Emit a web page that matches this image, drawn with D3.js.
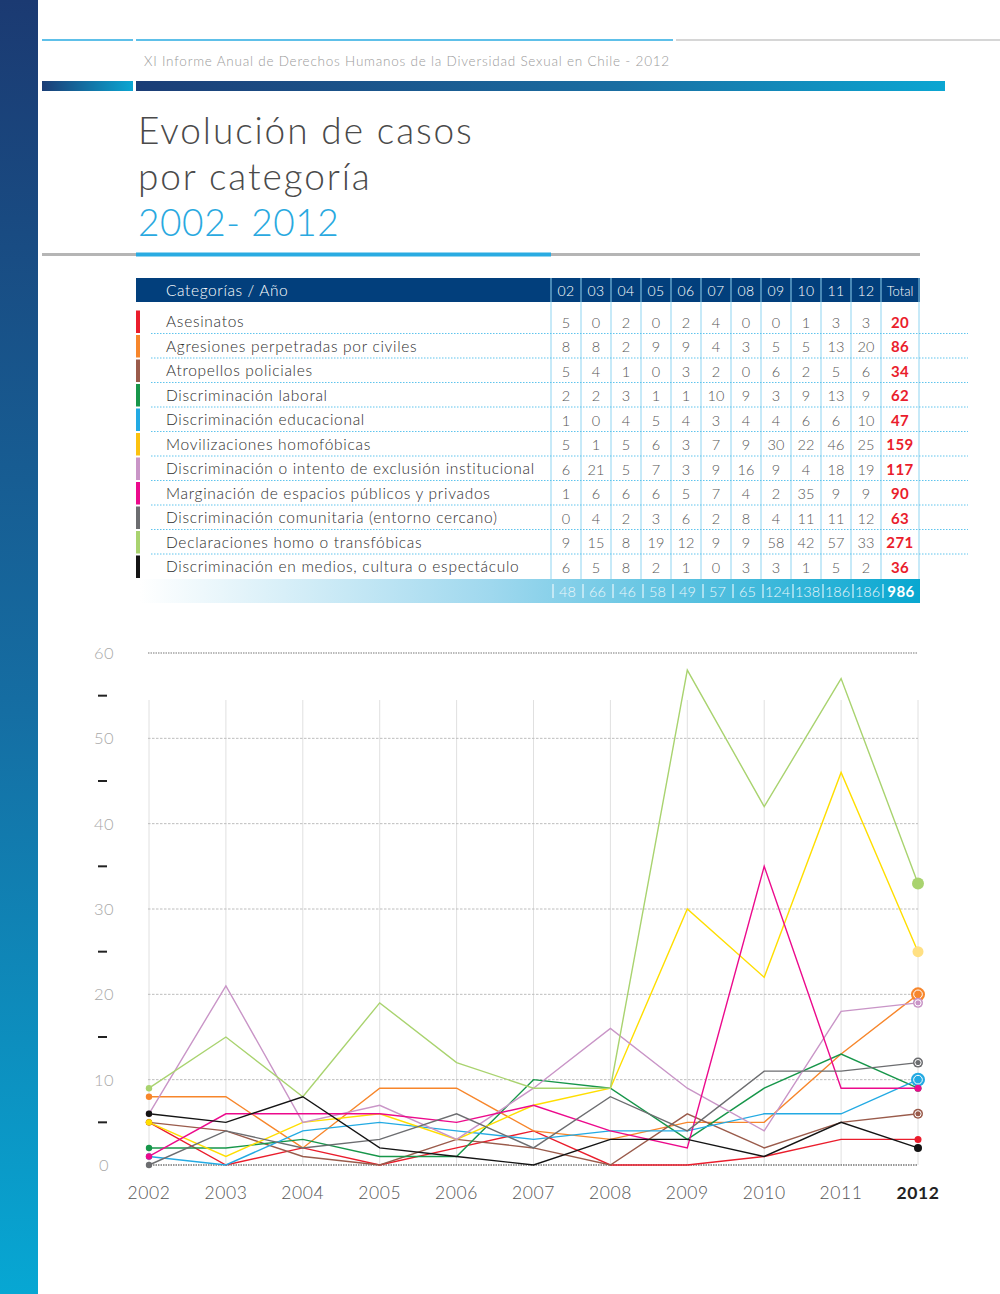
<!DOCTYPE html>
<html>
<head>
<meta charset="utf-8">
<script src="https://cdn.jsdelivr.net/npm/d3@7"></script>
<style>
  body { margin: 0; background: #fff; }
  svg { display: block; font-family: Lato, "Open Sans", sans-serif; }
</style>
</head>
<body>
<div id="chart"></div>
<script>
const years = ["2002", "2003", "2004", "2005", "2006", "2007", "2008", "2009", "2010", "2011", "2012"];
const yearHeaders = ["02", "03", "04", "05", "06", "07", "08", "09", "10", "11", "12"];
const categories = [
  "Asesinatos",
  "Agresiones perpetradas por civiles",
  "Atropellos policiales",
  "Discriminación laboral",
  "Discriminación educacional",
  "Movilizaciones homofóbicas",
  "Discriminación o intento de exclusión institucional",
  "Marginación de espacios públicos y privados",
  "Discriminación comunitaria (entorno cercano)",
  "Declaraciones homo o transfóbicas",
  "Discriminación en medios, cultura o espectáculo",
];
const asesinatos = [5, 0, 2, 0, 2, 4, 0, 0, 1, 3, 3];
const agresiones = [8, 8, 2, 9, 9, 4, 3, 5, 5, 13, 20];
const atropellos = [5, 4, 1, 0, 3, 2, 0, 6, 2, 5, 6];
const laboral = [2, 2, 3, 1, 1, 10, 9, 3, 9, 13, 9];
const educacional = [1, 0, 4, 5, 4, 3, 4, 4, 6, 6, 10];
const movilizaciones = [5, 1, 5, 6, 3, 7, 9, 30, 22, 46, 25];
const institucional = [6, 21, 5, 7, 3, 9, 16, 9, 4, 18, 19];
const marginacion = [1, 6, 6, 6, 5, 7, 4, 2, 35, 9, 9];
const comunitaria = [0, 4, 2, 3, 6, 2, 8, 4, 11, 11, 12];
const declaraciones = [9, 15, 8, 19, 12, 9, 9, 58, 42, 57, 33];
const medios = [6, 5, 8, 2, 1, 0, 3, 3, 1, 5, 2];
const categoryTotals = [20, 86, 34, 62, 47, 159, 117, 90, 63, 271, 36];
const yearTotals = [48, 66, 46, 58, 49, 57, 65, 124, 138, 186, 186];
const grandTotal = 986;
const yTicks = [0, 10, 20, 30, 40, 50, 60];

const seriesValues = [asesinatos, agresiones, atropellos, laboral, educacional, movilizaciones,
  institucional, marginacion, comunitaria, declaraciones, medios];
const colors = ["#ea1d2c", "#f7862b", "#9a5b4b", "#17964a", "#23aae3", "#fcc20f",
  "#c995c7", "#ec0a8c", "#6c6d70", "#a9d36f", "#141414"];
const lineColors = ["#ea1d2c", "#f7862b", "#9a5b4b", "#17964a", "#23aae3", "#ffde00",
  "#c995c7", "#ec0a8c", "#6c6d70", "#a9d36f", "#141414"];
// end marker style per series: [radius, ring, fill]
const endMarkers = [
  [3.5, false, null], [7, true, null], [5, true, null], [3.5, false, null], [7, true, null],
  [5.5, false, "#ffe083"], [5, true, null], [3.5, false, null], [5, true, null], [6, false, null],
  [4, false, null],
];

const series = categories.map((name, i) => ({
  name, values: seriesValues[i], color: colors[i], line: lineColors[i], total: categoryTotals[i], marker: endMarkers[i],
}));

const width = 1000, height = 1294;
const svg = d3.select("#chart").append("svg").attr("width", width).attr("height", height);
const defs = svg.append("defs");

function linGrad(id, stops, x2 = "100%", y2 = "0%") {
  const g = defs.append("linearGradient").attr("id", id)
    .attr("x1", "0%").attr("y1", "0%").attr("x2", x2).attr("y2", y2);
  stops.forEach(([o, c]) => g.append("stop").attr("offset", o).attr("stop-color", c));
}
linGrad("side", [["0%", "#1b3a72"], ["55%", "#156ea3"], ["100%", "#07a7d3"]], "0%", "100%");
linGrad("bar", [["0%", "#1b3d76"], ["100%", "#0ba6d2"]]);
linGrad("bar2", [["0%", "#1b3d76"], ["60%", "#1a6ea2"], ["100%", "#0ba6d2"]]);
linGrad("tot", [["0%", "#ffffff"], ["45%", "#9fd8ee"], ["100%", "#08a7d0"]]);

// ---- page frame ----
svg.append("rect").attr("x", 0).attr("y", 0).attr("width", 38).attr("height", height).attr("fill", "url(#side)");
svg.append("line").attr("x1", 42).attr("x2", 133).attr("y1", 40).attr("y2", 40).attr("stroke", "#29abe2").attr("stroke-width", 1.5);
svg.append("line").attr("x1", 136).attr("x2", 673).attr("y1", 40).attr("y2", 40).attr("stroke", "#29abe2").attr("stroke-width", 1.5);
svg.append("line").attr("x1", 676).attr("x2", 1000).attr("y1", 40).attr("y2", 40).attr("stroke", "#c8c8c8").attr("stroke-width", 1.5);
svg.append("text").attr("x", 144).attr("y", 66).attr("font-size", 13.5).attr("font-weight", 300)
  .attr("letter-spacing", 0.78).attr("fill", "#9a9a9a")
  .text("XI Informe Anual de Derechos Humanos de la Diversidad Sexual en Chile - 2012");
svg.append("rect").attr("x", 42).attr("y", 81).attr("width", 91).attr("height", 10).attr("fill", "url(#bar)");
svg.append("rect").attr("x", 136).attr("y", 81).attr("width", 809).attr("height", 10).attr("fill", "url(#bar2)");

// ---- title ----
const title = svg.append("g").attr("font-weight", 300).attr("font-size", 37).attr("letter-spacing", 1.9);
title.append("text").attr("x", 138).attr("y", 144).attr("fill", "#4a4a4a").text("Evolución de casos");
title.append("text").attr("x", 138).attr("y", 190).attr("fill", "#4a4a4a").text("por categoría");
title.append("text").attr("x", 138).attr("y", 236).attr("fill", "#29a9e0").attr("letter-spacing", 0.6).text("2002- 2012");
svg.append("rect").attr("x", 42).attr("y", 253).attr("width", 878).attr("height", 3).attr("fill", "#b5b5b5");
svg.append("rect").attr("x", 136).attr("y", 252.5).attr("width", 415).attr("height", 4).attr("fill", "#29abe2");

// ---- table ----
const colX = d3.scaleBand().domain(yearHeaders).range([551, 881]);
const totalX0 = 881, totalX1 = 919;
const rowY = d3.scaleBand().domain(categories).range([309.5, 579]);
const table = svg.append("g");

table.append("rect").attr("x", 136).attr("y", 278).attr("width", 784).attr("height", 24).attr("fill", "#023f7c");
table.append("text").attr("x", 166).attr("y", 296).attr("fill", "#fff").attr("font-size", 15.5).attr("font-weight", 300)
  .attr("letter-spacing", 0.6).text("Categorías / Año");
table.selectAll(".yh").data(yearHeaders).join("text").attr("class", "yh")
  .attr("x", d => colX(d) + colX.bandwidth() / 2).attr("y", 295.5).attr("text-anchor", "middle")
  .attr("fill", "#fff").attr("font-size", 14).attr("font-weight", 300).attr("letter-spacing", 0.5).text(d => d);
table.append("text").attr("x", (totalX0 + totalX1) / 2).attr("y", 296).attr("text-anchor", "middle")
  .attr("fill", "#fff").attr("font-size", 13).attr("font-weight", 300).text("Total");

// totals row background
table.append("rect").attr("x", 140).attr("y", 579).attr("width", 780).attr("height", 24).attr("fill", "url(#tot)");

// column lines
const colLines = colX.domain().map(d => colX(d)).concat([totalX0, totalX1]);
table.selectAll(".cl").data(colLines).join("line").attr("class", "cl")
  .attr("x1", d => d).attr("x2", d => d).attr("y1", 278).attr("y2", 579)
  .attr("stroke", "#8fd4f1").attr("stroke-width", 1);

const rows = table.selectAll(".row").data(series).join("g").attr("class", "row")
  .attr("transform", d => `translate(0,${rowY(d.name)})`);
const rh = rowY.bandwidth();
rows.append("rect").attr("x", 136).attr("y", 1).attr("width", 4).attr("height", rh - 2).attr("fill", d => d.color);
rows.filter((d, i) => i < series.length - 1).append("line")
  .attr("x1", 151).attr("x2", 968).attr("y1", rh - 0.5).attr("y2", rh - 0.5)
  .attr("stroke", "#5fc4ed").attr("stroke-width", 1).attr("stroke-dasharray", "1.5,1.5");
rows.append("text").attr("x", 166).attr("y", rh / 2 + 5.5).attr("font-size", 15.5).attr("font-weight", 300)
  .attr("letter-spacing", 0.7).attr("fill", "#2e2e2e").text(d => d.name);
rows.selectAll(".v").data(d => d.values).join("text").attr("class", "v")
  .attr("x", (d, i) => colX(yearHeaders[i]) + colX.bandwidth() / 2).attr("y", rh / 2 + 6)
  .attr("text-anchor", "middle").attr("font-size", 14.5).attr("font-weight", 300).attr("fill", "#555")
  .text(d => d);
rows.append("text").attr("x", (totalX0 + totalX1) / 2).attr("y", rh / 2 + 6).attr("text-anchor", "middle")
  .attr("font-size", 15).attr("font-weight", 700).attr("letter-spacing", 0.4).attr("fill", "#ea1d2c").text(d => d.total);

// totals row
const totRow = table.append("g").attr("transform", "translate(0,579)");
totRow.selectAll(".sep").data(colLines.slice(0, -1)).join("line").attr("class", "sep")
  .attr("x1", d => d + 2).attr("x2", d => d + 2).attr("y1", 5).attr("y2", 19)
  .attr("stroke", "#fff").attr("stroke-width", 1);
totRow.selectAll(".t").data(yearTotals).join("text").attr("class", "t")
  .attr("x", (d, i) => colX(yearHeaders[i]) + colX.bandwidth() / 2 + 1.5).attr("y", 18)
  .attr("text-anchor", "middle").attr("font-size", 14.5).attr("font-weight", 300)
  .attr("fill", "#eaf7fc").text(d => d);
totRow.append("text").attr("x", (totalX0 + totalX1) / 2 + 1).attr("y", 18).attr("text-anchor", "middle")
  .attr("font-size", 15).attr("font-weight", 700).attr("letter-spacing", 0.4).attr("fill", "#fff").text(grandTotal);

// ---- line chart ----
const x = d3.scalePoint().domain(years).range([149, 918]);
const y = d3.scaleLinear().domain([0, 60]).range([1165, 653]);
const chart = svg.append("g");

chart.selectAll(".vg").data(years).join("line").attr("class", "vg")
  .attr("x1", d => x(d)).attr("x2", d => x(d)).attr("y1", 700).attr("y2", y(0))
  .attr("stroke", "#e0e0e0").attr("stroke-width", 1);
chart.selectAll(".hg").data(yTicks).join("line").attr("class", "hg")
  .attr("x1", 148).attr("x2", 918).attr("y1", d => y(d)).attr("y2", d => y(d))
  .attr("stroke", d => d === 0 ? "#333" : d === 60 ? "#777" : "#bdbdbd")
  .attr("stroke-width", d => d === 60 ? 1.2 : 1)
  .attr("stroke-dasharray", d => d === 0 || d === 60 ? "1.5,1" : "2.5,1.5");

chart.selectAll(".yl").data(yTicks).join("text").attr("class", "yl")
  .attr("x", 104).attr("y", d => y(d) + 6).attr("text-anchor", "middle")
  .attr("font-size", 16.5).attr("font-weight", 300).attr("letter-spacing", 0.5).attr("fill", "#a8a8a8").text(d => d);
chart.selectAll(".ym").data(yTicks.slice(0, -1).map(d => d + 5)).join("line").attr("class", "ym")
  .attr("x1", 98).attr("x2", 107).attr("y1", d => y(d)).attr("y2", d => y(d))
  .attr("stroke", "#222").attr("stroke-width", 2);

chart.selectAll(".xl").data(years).join("text").attr("class", "xl")
  .attr("x", d => x(d)).attr("y", 1199).attr("text-anchor", "middle")
  .attr("font-size", 17.5).attr("font-weight", d => d === "2012" ? 700 : 300).attr("letter-spacing", 0.6)
  .attr("fill", d => d === "2012" ? "#222" : "#555").text(d => d);

const line = d3.line().x((d, i) => x(years[i])).y(d => y(d));
chart.selectAll(".ln").data(series).join("path").attr("class", "ln")
  .attr("d", d => line(d.values)).attr("fill", "none")
  .attr("stroke", d => d.line).attr("stroke-width", 1.4);

chart.selectAll(".m0").data(series).join("circle").attr("class", "m0")
  .attr("cx", x(years[0])).attr("cy", d => y(d.values[0])).attr("r", 3.2).attr("fill", d => d.line);

const last = years.length - 1;
const ends = chart.selectAll(".m1").data(series).join("g").attr("class", "m1")
  .attr("transform", d => `translate(${x(years[last])},${y(d.values[last])})`);
ends.append("circle").attr("r", d => d.marker[0]).attr("fill", d => d.marker[2] || d.line);
ends.filter(d => d.marker[1]).append("circle").attr("r", d => d.marker[0] * 0.62)
  .attr("fill", "none").attr("stroke", "#fff").attr("stroke-width", 1);
</script>
</body>
</html>
